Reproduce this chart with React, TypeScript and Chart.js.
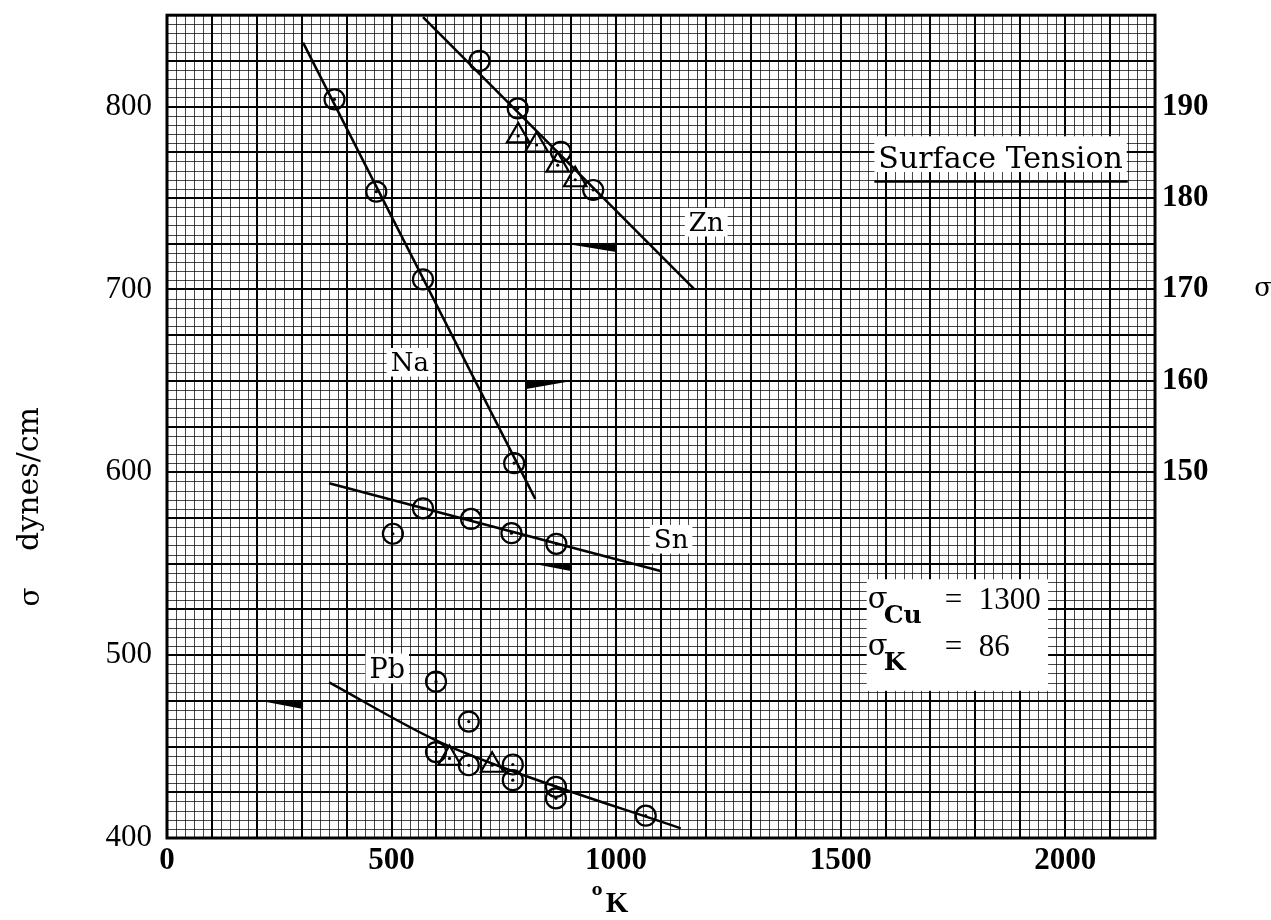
import React, { useEffect, useRef } from 'react';
import { Chart, registerables } from 'chart.js';

Chart.register(...registerables);

// Temperature in K, surface tension in dynes/cm.
// Na is read against the right-hand scale (σ, 110–200), the rest against the left.
const naT = [373, 466, 570, 773];
const naSigma = [190.8, 180.7, 171.1, 151.0];
const naFitT = [303, 820];
const naFitSigma = [197.0, 147.1];

const znCircleT = [696, 781, 877, 949];
const znCircleSigma = [825, 799, 775.3, 754.4];
const znTriT = [782, 823, 870, 909];
const znTriSigma = [784, 779, 768, 760];
const znFitT = [570, 1173];
const znFitSigma = [849, 700.4];

const snT = [503, 570, 677, 767, 867];
const snSigma = [566.4, 580.3, 574.5, 566.7, 560.9];
const snFitT = [361, 1099];
const snFitSigma = [594, 546];

const pbCircleT = [599, 672, 599, 672, 770, 770, 866, 866, 1066];
const pbCircleSigma = [485.5, 463.7, 447, 439.8, 440.2, 431.6, 428, 421.7, 412.2];
const pbTriT = [629, 724];
const pbTriSigma = [443.5, 439.8];
const pbFitT = [361, 599, 770, 1144];
const pbFitSigma = [485.1, 453.4, 436.5, 405.3];

// Tick labels
const xTicks = [0, 500, 1000, 1500, 2000];
const leftTicks = [400, 500, 600, 700, 800];
const rightTicks = [150, 160, 170, 180, 190];

// Black wedge pointers [T, σ] on the given axis
const wedgeAxes = ['y', 'y2', 'y', 'y'];
const wedgePoints = [
  [[902, 724.5], [1000, 725.5], [1000, 720.5]],
  [[800, 160.05], [895, 159.92], [800, 159.12]],
  [[807, 550.4], [899, 550.3], [899, 546]],
  [[207, 475.1], [303, 474.8], [303, 470.6]],
];

const SERIF = '"DejaVu Serif", serif';
const TIMES = '"Liberation Serif", "Times New Roman", serif';

const toXY = (xs: number[], ys: number[]) => xs.map((x, i) => ({ x, y: ys[i] }));

const graphPaper = {
  id: 'graphPaper',
  beforeDatasetsDraw(chart: any) {
    const { ctx, chartArea: a, scales } = chart;
    const sx = scales.x;
    const sy = scales.y;
    ctx.save();
    const vLine = (v: number, w: number, c: string) => {
      let p = sx.getPixelForValue(v);
      p = w % 2 === 1 ? Math.round(p) + 0.5 : Math.round(p);
      ctx.strokeStyle = c;
      ctx.lineWidth = w;
      ctx.beginPath();
      ctx.moveTo(p, a.top);
      ctx.lineTo(p, a.bottom);
      ctx.stroke();
    };
    const hLine = (v: number, w: number, c: string) => {
      let p = sy.getPixelForValue(v);
      p = w % 2 === 1 ? Math.round(p) + 0.5 : Math.round(p);
      ctx.strokeStyle = c;
      ctx.lineWidth = w;
      ctx.beginPath();
      ctx.moveTo(a.left, p);
      ctx.lineTo(a.right, p);
      ctx.stroke();
    };
    const fine = 'rgba(0,0,0,0.72)';
    for (let i = 0; i <= 110; i++) if ((i * 20) % 100 !== 0) vLine(i * 20, 1, fine);
    for (let i = 0; i <= 90; i++) if ((400 + i * 5) % 25 !== 0) hLine(400 + i * 5, 1, fine);
    for (let v = 0; v <= 2200; v += 100) vLine(v, 2, '#000');
    for (let v = 400; v <= 850; v += 25) hLine(v, 2, '#000');
    ctx.lineWidth = 3;
    ctx.strokeStyle = '#000';
    ctx.strokeRect(a.left, a.top, a.right - a.left, a.bottom - a.top);

    // wedge pointers
    ctx.fillStyle = '#000';
    wedgePoints.forEach((pts, k) => {
      const ys = scales[wedgeAxes[k]];
      ctx.beginPath();
      pts.forEach(([t, s], j) => {
        const px = sx.getPixelForValue(t);
        const py = ys.getPixelForValue(s);
        if (j === 0) ctx.moveTo(px, py);
        else ctx.lineTo(px, py);
      });
      ctx.closePath();
      ctx.fill();
    });
    ctx.restore();
  },
};

const centreDots = {
  id: 'centreDots',
  afterDatasetsDraw(chart: any) {
    const { ctx } = chart;
    ctx.save();
    ctx.fillStyle = '#000';
    chart.data.datasets.forEach((ds: any, i: number) => {
      if (!ds.dotted) return;
      chart.getDatasetMeta(i).data.forEach((el: any) => {
        ctx.beginPath();
        ctx.arc(el.x, el.y, 1.6, 0, Math.PI * 2);
        ctx.fill();
      });
    });
    ctx.restore();
  },
};

// Series names and caption, placed in data coordinates (left, baseline)
const captions = [
  { text: 'Surface Tension', t: 1584, s: 766.2, size: 30, underline: true },
  { text: 'Zn', t: 1162, s: 731.8, size: 26, underline: false },
  { text: 'Sn', t: 1084, s: 558.4, size: 26, underline: false },
  { text: 'Pb', t: 451, s: 487.6, size: 27, underline: false },
  { text: 'Na', t: 498, s: 655.2, size: 26, underline: false },
];

const textLayer = {
  id: 'textLayer',
  afterDraw(chart: any) {
    const { ctx, scales, chartArea: a } = chart;
    const sx = scales.x;
    const sy = scales.y;
    ctx.save();
    ctx.textBaseline = 'alphabetic';
    ctx.textAlign = 'left';

    captions.forEach((c) => {
      const x = sx.getPixelForValue(c.t);
      const b = sy.getPixelForValue(c.s);
      ctx.font = `${c.size}px ${SERIF}`;
      const w = ctx.measureText(c.text).width;
      const top = b - (c.underline ? 1.07 : 0.9) * c.size;
      const bottom = b + (c.underline ? 0.12 : 0.2) * c.size;
      ctx.fillStyle = '#fff';
      ctx.fillRect(x - 4, top, w + 8, bottom - top);
      ctx.fillStyle = '#000';
      ctx.fillText(c.text, x, b);
      if (c.underline) {
        ctx.strokeStyle = '#000';
        ctx.lineWidth = 2.5;
        ctx.beginPath();
        ctx.moveTo(x - 4, b + 13);
        ctx.lineTo(x + w + 5, b + 13);
        ctx.stroke();
      }
    });

    // σ_Cu / σ_K box
    const bx0 = sx.getPixelForValue(1558);
    const bx1 = sx.getPixelForValue(1962);
    const by0 = sy.getPixelForValue(541.5);
    const by1 = sy.getPixelForValue(480.5);
    ctx.fillStyle = '#fff';
    ctx.fillRect(bx0, by0, bx1 - bx0, by1 - by0);
    ctx.fillStyle = '#000';
    const rows = [
      { sub: 'Cu', val: '1300', base: by0 + 29 },
      { sub: 'K', val: '86', base: by0 + 76 },
    ];
    rows.forEach((r) => {
      ctx.font = `29px ${SERIF}`;
      ctx.fillText('σ', bx0 + 1, r.base);
      ctx.font = `bold 25px ${SERIF}`;
      ctx.fillText(r.sub, bx0 + 17, r.base + 15);
      ctx.font = `31px ${TIMES}`;
      ctx.fillText('=', bx0 + 78, r.base + 1);
      ctx.fillText(r.val, bx0 + 112, r.base + 1);
    });

    // axis titles
    ctx.save();
    ctx.translate(30, 479);
    ctx.rotate(-Math.PI / 2);
    ctx.textAlign = 'center';
    ctx.textBaseline = 'middle';
    ctx.font = `30px ${SERIF}`;
    ctx.fillText('dynes/cm', 0, 0);
    ctx.font = `28px ${SERIF}`;
    ctx.fillText('σ', -118, 2);
    ctx.restore();

    ctx.textAlign = 'center';
    ctx.textBaseline = 'middle';
    ctx.font = `26px ${SERIF}`;
    ctx.fillText('σ', a.right + 108, sy.getPixelForValue(700));

    const kx = sx.getPixelForValue(1000);
    ctx.font = `bold 16px ${SERIF}`;
    ctx.fillText('o', kx - 19, a.bottom + 53);
    ctx.font = `bold 29px ${TIMES}`;
    ctx.fillText('K', kx + 1, a.bottom + 67);
    ctx.restore();
  },
};

const tickFont = (bold: boolean) => ({ family: TIMES, size: 31, weight: bold ? 'bold' : 'normal' });
const plainLabel = (v: any) => String(v);

export default function App() {
  const ref = useRef<HTMLCanvasElement>(null);

  useEffect(() => {
    const canvas = ref.current;
    if (!canvas) return;

    const circle = (data: any[], yAxisID = 'y') => ({
      type: 'scatter' as const,
      data,
      yAxisID,
      pointStyle: 'circle',
      pointRadius: 10,
      pointBorderWidth: 2.2,
      pointBorderColor: '#000',
      pointBackgroundColor: 'rgba(0,0,0,0)',
      dotted: true,
    });
    const triangle = (data: any[]) => ({
      type: 'scatter' as const,
      data,
      yAxisID: 'y',
      pointStyle: 'triangle',
      pointRadius: 13,
      pointBorderWidth: 2.2,
      pointBorderColor: '#000',
      pointBackgroundColor: 'rgba(0,0,0,0)',
      dotted: true,
    });
    const fit = (data: any[], yAxisID = 'y', curved = false) => ({
      type: 'line' as const,
      data,
      yAxisID,
      borderColor: '#000',
      borderWidth: 2.5,
      pointRadius: 0,
      fill: false,
      cubicInterpolationMode: curved ? 'monotone' : 'default',
    });

    const chart = new Chart(canvas, {
      type: 'scatter',
      data: {
        datasets: [
          fit(toXY(naFitT, naFitSigma), 'y2'),
          fit(toXY(znFitT, znFitSigma)),
          fit(toXY(snFitT, snFitSigma)),
          fit(toXY(pbFitT, pbFitSigma), 'y', true),
          circle(toXY(naT, naSigma), 'y2'),
          circle(toXY(znCircleT, znCircleSigma)),
          triangle(toXY(znTriT, znTriSigma)),
          circle(toXY(snT, snSigma)),
          circle(toXY(pbCircleT, pbCircleSigma)),
          triangle(toXY(pbTriT, pbTriSigma)),
        ] as any,
      },
      options: {
        animation: false,
        responsive: false,
        devicePixelRatio: 1,
        layout: { padding: { top: 11, left: 0, right: 0, bottom: 0 } },
        plugins: { legend: { display: false }, tooltip: { enabled: false } },
        scales: {
          x: {
            type: 'linear',
            position: 'bottom',
            min: 0,
            max: 2200,
            grid: { display: false, drawTicks: false },
            border: { display: false },
            ticks: { color: '#000', font: tickFont(true) as any, padding: 4, maxRotation: 0, callback: plainLabel },
            afterBuildTicks: (s: any) => {
              s.ticks = xTicks.map((v) => ({ value: v }));
            },
            afterFit: (s: any) => {
              s.height = 82;
              s.paddingLeft = 0;
              s.paddingRight = 0;
            },
          },
          y: {
            type: 'linear',
            position: 'left',
            min: 400,
            max: 850,
            grid: { display: false, drawTicks: false },
            border: { display: false },
            ticks: { color: '#000', font: tickFont(false) as any, padding: 15, callback: plainLabel },
            afterBuildTicks: (s: any) => {
              s.ticks = leftTicks.map((v) => ({ value: v }));
            },
            afterFit: (s: any) => {
              s.width = 167;
              s.paddingTop = 0;
              s.paddingBottom = 0;
            },
          },
          y2: {
            type: 'linear',
            position: 'right',
            min: 110,
            max: 200,
            grid: { display: false, drawTicks: false },
            border: { display: false },
            ticks: { color: '#000', font: tickFont(true) as any, padding: 7, callback: plainLabel },
            afterBuildTicks: (s: any) => {
              s.ticks = rightTicks.map((v) => ({ value: v }));
            },
            afterFit: (s: any) => {
              s.width = 116;
              s.paddingTop = 0;
              s.paddingBottom = 0;
            },
          },
        },
      } as any,
      plugins: [graphPaper, centreDots, textLayer],
    });

    return () => chart.destroy();
  }, []);

  return (
    <div style={{ position: 'fixed', left: 0, top: 0, width: 1271, height: 920, background: '#fff' }}>
      <canvas ref={ref} width={1271} height={920} style={{ display: 'block' }} />
    </div>
  );
}
